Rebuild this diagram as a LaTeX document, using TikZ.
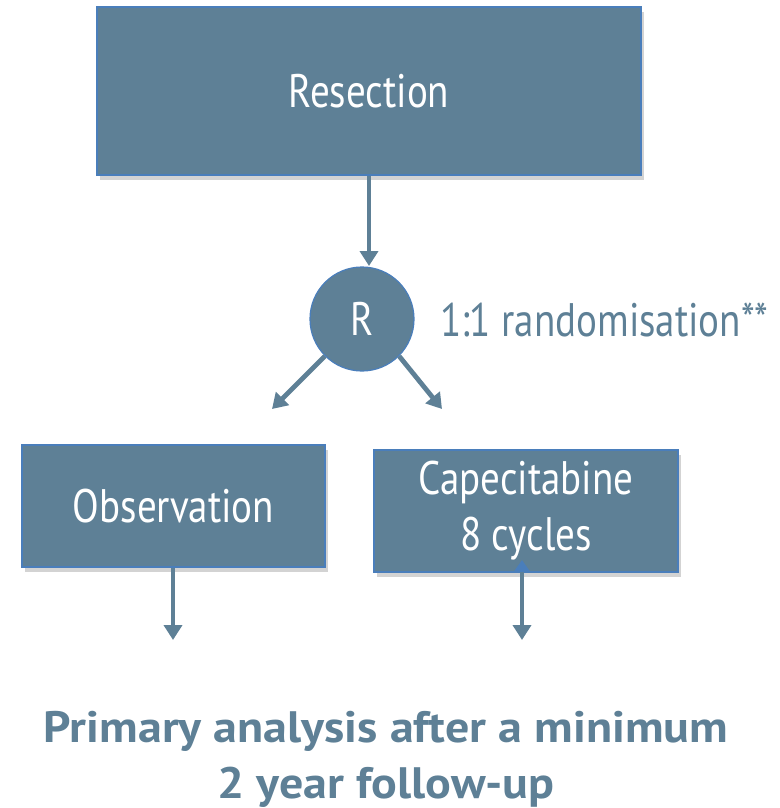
\documentclass[tikz,border=0pt]{standalone}
\usepackage{fontspec}
\setmainfont{PT Sans}[FakeStretch=0.83]
\newfontfamily\footfont{PT Sans}[FakeStretch=1.09]
\usetikzlibrary{arrows.meta,positioning,shadows}
\definecolor{slate}{RGB}{94,128,150}
\definecolor{rimblue}{RGB}{74,126,187}

\begin{document}
\begin{tikzpicture}[x=0.5pt,y=-0.5pt]
\tikzstyle{box}=[rectangle, draw=rimblue, line width=0.6pt, fill=slate, text=white, font=\fontsize{23.5}{28}\selectfont, align=center, drop shadow={opacity=0.35, shadow xshift=1.5pt, shadow yshift=-2.5pt}]
\tikzstyle{rand}=[circle, draw=rimblue, line width=0.6pt, fill=slate, text=white, minimum size=52pt, inner sep=0pt, font=\fontsize{23.5}{28}\selectfont]
\tikzstyle{connect}=[-{Triangle[width=9pt,length=7.5pt]}, line width=2.4pt, draw=slate]
\useasboundingbox (0,0) rectangle (780,808);
  \node[box, minimum width=272pt, minimum height=84pt] (resect) at (369,91) {Resection};
  \node[rand] (R) at (362,319) {R};
  \node[text=slate, font=\fontsize{23.5}{28}\selectfont, anchor=west] (ratio) at (433,320) {1:1 randomisation**};
  \node[box, minimum width=151.5pt, minimum height=61pt] (obs) at (173.5,506) {Observation};
  \node[box, minimum width=152pt, minimum height=61pt] (cape) at (526,511) {Capecitabine\\8 cycles};
  \coordinate (obsend) at (173,640);
  \coordinate (capeend) at (522,640);
  \coordinate (leftend) at (272,409);
  \coordinate (rightend) at (442,409);
  \node[text=slate, font=\footfont\bfseries\fontsize{22}{28}\selectfont, align=center] (primary) at (386,759) {Primary analysis after a minimum\\2 year follow-up};
  \draw[connect] (resect.south -| 369,0) -- (369,266);
  \draw[connect] (R.225) -- (leftend);
  \draw[connect] (R.315) -- (rightend);
  \draw[connect] (obs.south -| obsend) -- (obsend);
  \draw[connect, {Triangle[width=8pt,length=6pt,fill=rimblue,color=rimblue]}-{Triangle[width=9pt,length=7.5pt]}] (522,560) -- (capeend);
\end{tikzpicture}
\end{document}
